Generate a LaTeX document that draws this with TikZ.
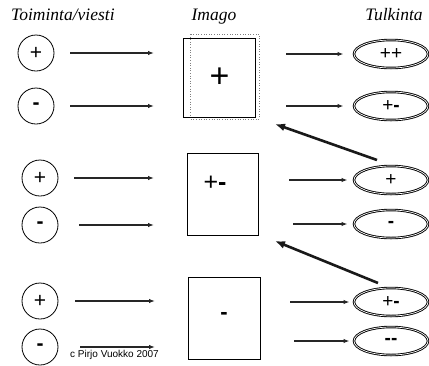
\documentclass[tikz,border=0pt]{standalone}
\usepackage{fontspec}
\setmainfont{Liberation Serif}
\setsansfont{Liberation Sans}
\usetikzlibrary{arrows.meta,shapes.geometric}

\newcommand{\pl}{{\sffamily +}}
\newcommand{\mi}{{\sffamily\bfseries -}}

\tikzset{
  title/.style={font=\fontsize{17.5}{19}\selectfont\itshape, inner sep=0pt, anchor=base},
  msg/.style={circle, draw, line width=0.8pt, minimum size=36pt, inner sep=0pt,
              font=\fontsize{21}{21}\selectfont},
  imgbox/.style={draw, line width=1.1pt, inner sep=0pt, anchor=north west},
  interp/.style={ellipse, draw, double=white, double distance=0.7pt, line width=0.9pt,
                 minimum width=74pt, minimum height=28pt, inner sep=0pt,
                 font=\fontsize{19}{19}\selectfont},
  flow/.style={-{Latex[length=6pt,width=4.5pt]}, line width=1.5pt, draw=black!85},
  back/.style={-{Latex[length=10pt,width=8pt]}, line width=2.6pt, draw=black!90},
  note/.style={font=\sffamily\fontsize{10}{10}\selectfont, inner sep=0pt, anchor=base west}
}

\begin{document}
\begin{tikzpicture}[x=1pt, y=-1pt]
  \useasboundingbox (0,0) rectangle (429,365);

  % column headings
  \node[title, anchor=base west] (hdA) at (11,20) {Toiminta/viesti};
  \node[title] (hdB) at (214,20) {Imago};
  \node[title] (hdC) at (394,20) {Tulkinta};

  % messages
  \node[msg] (m1) at (36,53)  {\pl};
  \node[msg] (m2) at (36,106) {\mi};
  \node[msg] (m3) at (40,178) {\pl};
  \node[msg] (m4) at (40,225) {\mi};
  \node[msg] (m5) at (40,301) {\pl};
  \node[msg] (m6) at (40,347) {\mi};

  % images
  \draw[gray, dotted, line width=0.6pt] (190,34) rectangle (259,119);
  \node[imgbox, minimum width=72pt, minimum height=79pt,
        font=\sffamily\fontsize{34}{34}\selectfont] (b1) at (183,38) {+};
  \node[imgbox, minimum width=71pt, minimum height=82pt] (b2) at (187,153) {};
  \node[imgbox, minimum width=72pt, minimum height=82pt] (b3) at (188,277) {};
  \node[font=\fontsize{25}{25}\selectfont, inner sep=0pt] (s2) at (215,183) {\pl\mi};
  \node[font=\fontsize{22}{22}\selectfont, inner sep=0pt] (s3) at (224,316) {\mi};

  % interpretations
  \node[interp] (e1) at (391,54)  {\pl\pl};
  \node[interp] (e2) at (391,106) {\pl\mi};
  \node[interp] (e3) at (391,180) {\pl};
  \node[interp] (e4) at (391,224) {\mi};
  \node[interp] (e5) at (391,302) {\pl\mi};
  \node[interp] (e6) at (391,341) {\mi\mi};

  % message -> image
  \draw[flow, shorten <=16pt, shorten >=29pt] (m1.east) -- (m1.east -| b1.west);
  \draw[flow, shorten <=16pt, shorten >=29pt] (m2.east) -- (m2.east -| b1.west);
  \draw[flow, shorten <=16pt, shorten >=33pt] (m3.east) -- (m3.east -| b2.west);
  \draw[flow, shorten <=21pt, shorten >=33pt] (m4.east) -- (m4.east -| b2.west);
  \draw[flow, shorten <=17pt, shorten >=33pt] (m5.east) -- (m5.east -| b3.west);
  \draw[flow, shorten <=22pt, shorten >=33pt] (m6.east) -- (m6.east -| b3.west);

  % image -> interpretation
  \draw[flow, shorten <=30pt, shorten >=10pt] (e1.west -| b1.east) -- (e1.west);
  \draw[flow, shorten <=30pt, shorten >=10pt] (e2.west -| b1.east) -- (e2.west);
  \draw[flow, shorten <=30pt, shorten >=6pt]  (e3.west -| b2.east) -- (e3.west);
  \draw[flow, shorten <=34pt, shorten >=6pt]  (e4.west -| b2.east) -- (e4.west);
  \draw[flow, shorten <=29pt, shorten >=4pt]  (e5.west -| b3.east) -- (e5.west);
  \draw[flow, shorten <=33pt, shorten >=4pt]  (e6.west -| b3.east) -- (e6.west);

  % feedback from interpretation to the image above
  \coordinate (f1s) at (377,160);
  \coordinate (f1e) at (275,124);
  \coordinate (f2s) at (378,283);
  \coordinate (f2e) at (275,241);
  \draw[back] (f1s) -- (f1e);
  \draw[back] (f2s) -- (f2e);

  % credit line
  \node[note] (cr) at (70,357) {c Pirjo Vuokko 2007};
\end{tikzpicture}
\end{document}
